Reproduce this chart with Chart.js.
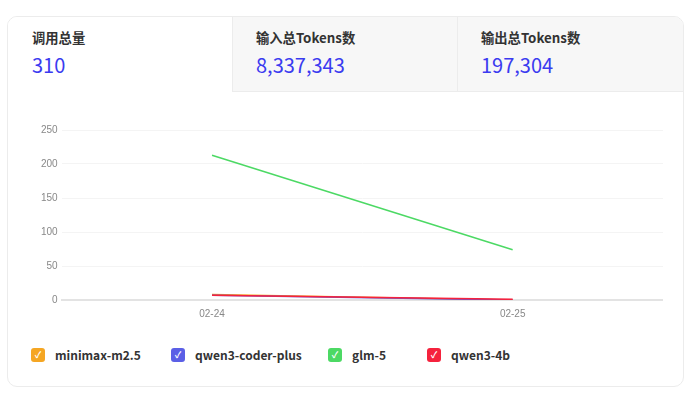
<!DOCTYPE html>
<html>
<head>
<meta charset="utf-8">
<script src="https://cdn.jsdelivr.net/npm/chart.js@4"></script>
<style>
  body { margin: 0; background: #fff; font-family: "Noto Sans CJK SC", "Noto Sans", sans-serif; }
  .card { position: absolute; left: 7px; top: 16px; width: 675px; height: 369px; border: 1px solid #ececec; border-radius: 10px; overflow: hidden; }
  .tabs { display: flex; height: 75px; }
  .tab { box-sizing: border-box; padding: 11px 0 0 23px; background: #f7f7f7; border-left: 1px solid #ececec; border-bottom: 1px solid #ececec; }
  .tab.active { background: #fff; border-left: none; border-bottom: none; padding-left: 24px; }
  .tab .t { font-size: 13.3px; font-weight: bold; color: #333; height: 22px; }
  .tab .v { font-size: 20px; color: #3b3bf0; margin-top: 0; }
  .chartBox { position: absolute; left: 29px; top: 103px; width: 626px; height: 200px; }
  .legend { position: absolute; top: 329px; left: 23px; display: flex; font-size: 12px; font-weight: bold; color: #333; }
  .legend .item { display: flex; align-items: center; }
  .legend .box { width: 14px; height: 14px; border-radius: 3px; color: #fff; font-size: 9px; line-height: 14px; text-align: center; margin-right: 10px; }
</style>
</head>
<body>
<div class="card">
  <div class="tabs" id="tabs"></div>
  <div class="chartBox"><canvas id="grafico"></canvas></div>
  <div class="legend" id="legend"></div>
</div>
<script>
const resumenTitulos = ["调用总量", "输入总Tokens数", "输出总Tokens数"];
const resumenValores = ["310", "8,337,343", "197,304"];
const resumenAnchos = [224, 225, 226];

const fechas = ["02-24", "02-25"];
const modelos = ["minimax-m2.5", "qwen3-coder-plus", "glm-5", "qwen3-4b"];
const colores = ["#f5a623", "#5b5fe6", "#4cd964", "#f5223d"];
const minimax = [8, 0];
const qwenCoder = [7, 0];
const glm = [213, 74];
const qwen4b = [7, 1];
const serie = [minimax, qwenCoder, glm, qwen4b];
const ticksY = [0, 50, 100, 150, 200, 250];

const tabs = document.getElementById("tabs");
resumenTitulos.forEach((t, i) => {
  const d = document.createElement("div");
  d.className = "tab" + (i === 0 ? " active" : "");
  d.style.width = resumenAnchos[i] + "px";
  d.innerHTML = '<div class="t">' + t + '</div><div class="v">' + resumenValores[i] + '</div>';
  tabs.appendChild(d);
});

const legend = document.getElementById("legend");
const legendGaps = [140, 157, 99, 0];
modelos.forEach((m, i) => {
  const it = document.createElement("div");
  it.className = "item";
  it.style.width = legendGaps[i] ? legendGaps[i] + "px" : "auto";
  it.innerHTML = '<span class="box" style="background:' + colores[i] + '">✓</span>' + m;
  legend.appendChild(it);
});

new Chart(document.getElementById("grafico"), {
  type: "line",
  data: {
    labels: fechas,
    datasets: modelos.map((m, i) => ({
      label: m,
      data: serie[i],
      borderColor: colores[i],
      backgroundColor: colores[i],
      borderWidth: 1.5,
      pointRadius: 0,
      tension: 0,
      order: 4 - i
    }))
  },
  options: {
    responsive: true,
    maintainAspectRatio: false,
    animation: false,
    layout: { padding: { top: 4, right: 0 } },
    plugins: { legend: { display: false }, tooltip: { enabled: false } },
    scales: {
      x: {
        offset: true,
        grid: { display: false },
        border: { color: "#e3e3e3", width: 2 },
        ticks: { color: "#888", font: { size: 10 }, padding: 0 }
      },
      y: {
        min: 0,
        max: 250,
        afterBuildTicks: axis => { axis.ticks = ticksY.map(v => ({ value: v })); },
        grid: { color: "#f4f4f4", drawTicks: false },
        border: { display: false },
        ticks: { color: "#888", font: { size: 10 }, padding: 4 }
      }
    }
  }
});
</script>
</body>
</html>
